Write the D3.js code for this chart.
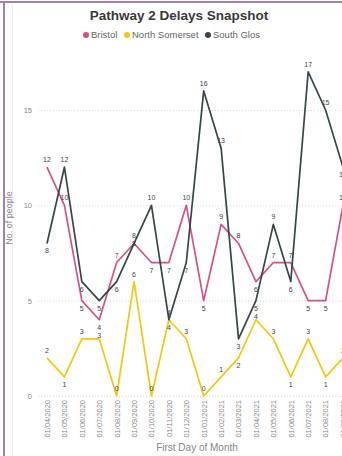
<!DOCTYPE html>
<html>
<head>
<meta charset="utf-8">
<script src="https://cdn.jsdelivr.net/npm/d3@7"></script>
<style>
  html, body { margin: 0; padding: 0; background: #fff; overflow: hidden; }
  svg { display: block; font-family: "Liberation Sans", Arial, sans-serif; }
</style>
</head>
<body>
<svg id="chart" width="360" height="456"></svg>
<script>
// Monthly snapshot of Pathway 2 delays by locality
const months = [
  "01/04/2020", "01/05/2020", "01/06/2020", "01/07/2020", "01/08/2020", "01/09/2020",
  "01/10/2020", "01/11/2020", "01/12/2020", "01/01/2021", "01/02/2021", "01/03/2021",
  "01/04/2021", "01/05/2021", "01/06/2021", "01/07/2021", "01/08/2021", "01/09/2021"
];
const bristol       = [12, 10, 5, 4, 7, 8, 7, 7, 10, 5, 9, 8, 6, 7, 7, 5, 5, 10];
const northSomerset = [2, 1, 3, 3, 0, 6, 0, 4, 3, 0, 1, 2, 4, 3, 1, 3, 1, 2];
const southGlos     = [8, 12, 6, 5, 6, 8, 10, 4, 7, 16, 13, 3, 5, 9, 6, 17, 15, 12];
const yTicks = [0, 5, 10, 15];

const seriesNames  = ["Bristol", "North Somerset", "South Glos"];
const seriesColors = ["#d6508a", "#f2c80f", "#374649"];
const seriesValues = [bristol, northSomerset, southGlos];

const svg = d3.select("#chart");

// Frame
svg.append("line").attr("x1", 0).attr("x2", 360).attr("y1", 2).attr("y2", 2)
  .attr("stroke", "#9c82b6").attr("stroke-width", 2);
svg.append("line").attr("x1", 4).attr("x2", 4).attr("y1", 1).attr("y2", 456)
  .attr("stroke", "#9c82b6").attr("stroke-width", 2);
svg.append("line").attr("x1", 12.5).attr("x2", 12.5).attr("y1", 4).attr("y2", 456)
  .attr("stroke", "#eeeeee").attr("stroke-width", 1);

// Title
svg.append("text").attr("x", 179).attr("y", 20).attr("text-anchor", "middle")
  .attr("font-size", 13.5).attr("font-weight", "bold").attr("fill", "#3a3a3a")
  .text("Pathway 2 Delays Snapshot");

// Legend
const legendX = [86, 127, 208];
const legend = svg.append("g");
seriesNames.forEach((name, i) => {
  legend.append("circle").attr("cx", legendX[i]).attr("cy", 35).attr("r", 3)
    .attr("fill", seriesColors[i]);
  legend.append("text").attr("x", legendX[i] + 5).attr("y", 38)
    .attr("font-size", 9.5).attr("fill", "#666").text(name);
});

// Scales
const x = d3.scalePoint().domain(months).range([47, 343]);
const y = d3.scaleLinear().domain([0, 15]).range([396, 110]);

// Gridlines + y ticks
const yAxis = d3.axisLeft(y).tickValues(yTicks).tickSize(-318).tickPadding(6);
const gy = svg.append("g").attr("transform", "translate(38,0)").call(yAxis);
gy.select(".domain").remove();
gy.selectAll(".tick line").attr("stroke", "#d8d8d8").attr("stroke-dasharray", "1,2");
gy.selectAll(".tick text").attr("font-size", 7.5).attr("fill", "#888")
  .attr("font-family", "Liberation Sans, Arial, sans-serif");

// x ticks (rotated)
const xAxis = d3.axisBottom(x).tickSize(0).tickPadding(0);
const gx = svg.append("g").attr("transform", "translate(0,400)").call(xAxis);
gx.select(".domain").remove();
gx.selectAll(".tick text")
  .attr("font-size", 7.5).attr("fill", "#888")
  .attr("font-family", "Liberation Sans, Arial, sans-serif")
  .attr("text-anchor", "end")
  .attr("dy", "0.32em")
  .attr("transform", "rotate(-90)")
  .attr("x", 0).attr("y", 0);

// Axis titles
svg.append("text").attr("transform", "translate(12,218) rotate(-90)")
  .attr("text-anchor", "middle").attr("font-size", 9).attr("fill", "#888")
  .text("No. of people");
svg.append("text").attr("x", 197).attr("y", 451).attr("text-anchor", "middle")
  .attr("font-size", 10).attr("fill", "#888").text("First Day of Month");

// Lines
const line = d3.line().x((d, i) => x(months[i])).y(d => y(d));
const order = [1, 0, 2];
order.forEach(s => {
  svg.append("path").datum(seriesValues[s])
    .attr("fill", "none").attr("stroke", seriesColors[s])
    .attr("stroke-width", 1.7).attr("stroke-linejoin", "round")
    .attr("d", line);
});

// Data labels: above local peaks, below local dips, zeros always above;
// labels sharing a month are pushed apart so they do not collide
const labels = svg.append("g").attr("font-size", 7).attr("fill", "#444")
  .attr("text-anchor", "middle");
months.forEach((m, i) => {
  const items = order.map(s => {
    const vals = seriesValues[s];
    const v = vals[i];
    const nb = [vals[i - 1], vals[i + 1]].filter(n => n !== undefined);
    const above = v === 0 || v >= d3.mean(nb);
    return { v, ly: above ? y(v) - 5 : y(v) + 10 };
  }).sort((a, b) => a.ly - b.ly);
  for (let k = 1; k < items.length; k++) {
    if (items[k].ly - items[k - 1].ly < 8) items[k].ly = items[k - 1].ly + 8;
  }
  items.forEach(d => {
    labels.append("text").attr("x", x(m)).attr("y", d.ly).text(d.v);
  });
});
</script>
</body>
</html>
